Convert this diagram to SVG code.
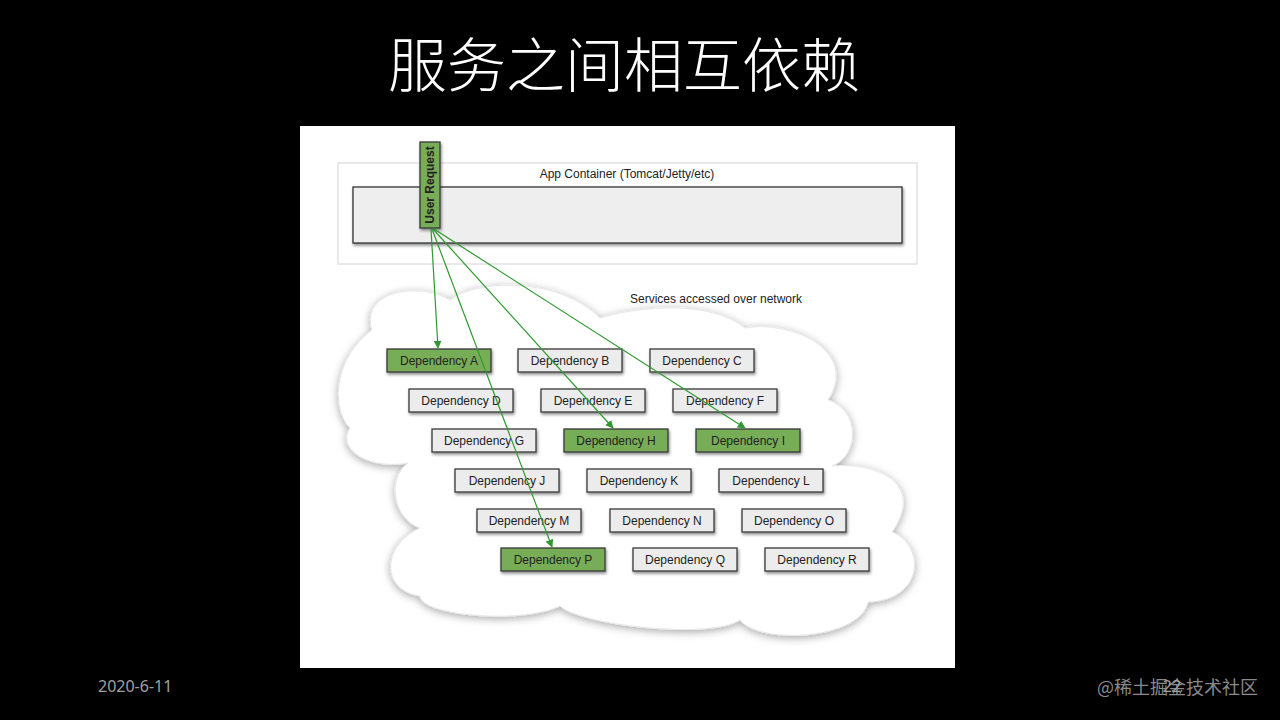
<svg xmlns="http://www.w3.org/2000/svg" width="1280" height="720" viewBox="0 0 1280 720">
<defs>
<style>
.box{fill:#ececec;stroke:#3a3a3a;stroke-width:1.3}
.gbox{fill:#78ad58;stroke:#3a3a3a;stroke-width:1.3}
.lbl{font-family:"Liberation Sans",Arial,sans-serif;font-size:12px;fill:#222;text-anchor:middle}
.edge{stroke:#2e9a2e;stroke-width:1.2;fill:none;marker-end:url(#ah)}
</style>
<marker id="ah" viewBox="0 0 10 10" refX="9" refY="5" markerWidth="8" markerHeight="8" orient="auto" markerUnits="userSpaceOnUse">
<path d="M0,0 L10,5 L0,10 z" fill="#2e9a2e"/>
</marker>
<filter id="sh" x="-10%" y="-20%" width="130%" height="160%">
<feDropShadow dx="1" dy="2" stdDeviation="1.5" flood-color="#000" flood-opacity="0.45"/>
</filter>
<filter id="csh" x="-10%" y="-10%" width="120%" height="120%">
<feDropShadow dx="0" dy="2" stdDeviation="4" flood-color="#000" flood-opacity="0.35"/>
</filter>
</defs>
<rect x="0" y="0" width="1280" height="720" fill="#000"/>
<text x="624" y="87" font-family="Noto Sans CJK SC, sans-serif" font-size="59" font-weight="300" fill="#fff" text-anchor="middle">服务之间相互依赖</text>
<rect x="300" y="126" width="655" height="542" fill="#fff"/>

<g id="app-container">
<rect x="338" y="163" width="579" height="101" fill="#fff" stroke="#d4d4d4" stroke-width="1"/>
<text x="627" y="178" class="lbl" font-size="11.5">App Container (Tomcat/Jetty/etc)</text>
<rect x="353" y="187" width="549" height="56" fill="#eeeeee" stroke="#333" stroke-width="1.3" filter="url(#sh)"/>
</g>

<g id="cloud">
<path d="M372,330 C360,290 420,282 450,300 C480,278 560,278 600,318 C640,306 710,300 745,328 C790,320 860,350 828,400 C860,410 860,455 832,466 C880,462 925,485 892,532 C925,545 925,600 868,602 C860,640 760,645 740,620 C710,640 580,625 560,606 C520,625 420,615 420,596 C380,590 382,545 420,528 C395,520 385,480 408,463 C370,470 336,450 350,428 C332,410 332,360 372,330 Z" fill="#fff" stroke="#e8e8e8" stroke-width="1" filter="url(#csh)"/>
<text x="716" y="303" class="lbl" font-size="11.5">Services accessed over network</text>
</g>

<g id="user-request">
<rect x="420" y="142" width="20" height="86" class="gbox" filter="url(#sh)"/>
<text x="0" y="0" class="lbl" font-size="11" font-weight="bold" transform="translate(434,185) rotate(-90)">User Request</text>
</g>

<g id="dep-A"><rect x="387" y="349" width="104" height="23" class="gbox" filter="url(#sh)"/><text x="439" y="365" class="lbl">Dependency A</text></g>
<g id="dep-B"><rect x="518" y="349" width="104" height="23" class="box" filter="url(#sh)"/><text x="570" y="365" class="lbl">Dependency B</text></g>
<g id="dep-C"><rect x="650" y="349" width="104" height="23" class="box" filter="url(#sh)"/><text x="702" y="365" class="lbl">Dependency C</text></g>
<g id="dep-D"><rect x="409" y="389" width="104" height="23" class="box" filter="url(#sh)"/><text x="461" y="405" class="lbl">Dependency D</text></g>
<g id="dep-E"><rect x="541" y="389" width="104" height="23" class="box" filter="url(#sh)"/><text x="593" y="405" class="lbl">Dependency E</text></g>
<g id="dep-F"><rect x="673" y="389" width="104" height="23" class="box" filter="url(#sh)"/><text x="725" y="405" class="lbl">Dependency F</text></g>
<g id="dep-G"><rect x="432" y="429" width="104" height="23" class="box" filter="url(#sh)"/><text x="484" y="445" class="lbl">Dependency G</text></g>
<g id="dep-H"><rect x="564" y="429" width="104" height="23" class="gbox" filter="url(#sh)"/><text x="616" y="445" class="lbl">Dependency H</text></g>
<g id="dep-I"><rect x="696" y="429" width="104" height="23" class="gbox" filter="url(#sh)"/><text x="748" y="445" class="lbl">Dependency I</text></g>
<g id="dep-J"><rect x="455" y="469" width="104" height="23" class="box" filter="url(#sh)"/><text x="507" y="485" class="lbl">Dependency J</text></g>
<g id="dep-K"><rect x="587" y="469" width="104" height="23" class="box" filter="url(#sh)"/><text x="639" y="485" class="lbl">Dependency K</text></g>
<g id="dep-L"><rect x="719" y="469" width="104" height="23" class="box" filter="url(#sh)"/><text x="771" y="485" class="lbl">Dependency L</text></g>
<g id="dep-M"><rect x="477" y="509" width="104" height="23" class="box" filter="url(#sh)"/><text x="529" y="525" class="lbl">Dependency M</text></g>
<g id="dep-N"><rect x="610" y="509" width="104" height="23" class="box" filter="url(#sh)"/><text x="662" y="525" class="lbl">Dependency N</text></g>
<g id="dep-O"><rect x="742" y="509" width="104" height="23" class="box" filter="url(#sh)"/><text x="794" y="525" class="lbl">Dependency O</text></g>
<g id="dep-P"><rect x="501" y="548" width="104" height="23" class="gbox" filter="url(#sh)"/><text x="553" y="564" class="lbl">Dependency P</text></g>
<g id="dep-Q"><rect x="633" y="548" width="104" height="23" class="box" filter="url(#sh)"/><text x="685" y="564" class="lbl">Dependency Q</text></g>
<g id="dep-R"><rect x="765" y="548" width="104" height="23" class="box" filter="url(#sh)"/><text x="817" y="564" class="lbl">Dependency R</text></g>

<g id="connectors">
<line x1="431" y1="229" x2="438" y2="348" class="edge"/>
<line x1="432" y1="229" x2="552" y2="547" class="edge"/>
<line x1="433" y1="229" x2="613" y2="428" class="edge"/>
<line x1="434" y1="229" x2="745" y2="428" class="edge"/>
</g>

<text x="98" y="692" font-family="Noto Sans, 'Liberation Sans', sans-serif" font-size="16" fill="#a0a0a0">2020-6-11</text>
<text x="1097" y="694" font-family="'Noto Sans CJK SC', sans-serif" font-size="18" fill="#8a8a8a">@稀土掘金技术社区</text>
<text x="1172" y="692" font-family="Noto Sans, 'Liberation Sans', sans-serif" font-size="16" fill="#a0a0a0" text-anchor="middle">22</text>
</svg>
